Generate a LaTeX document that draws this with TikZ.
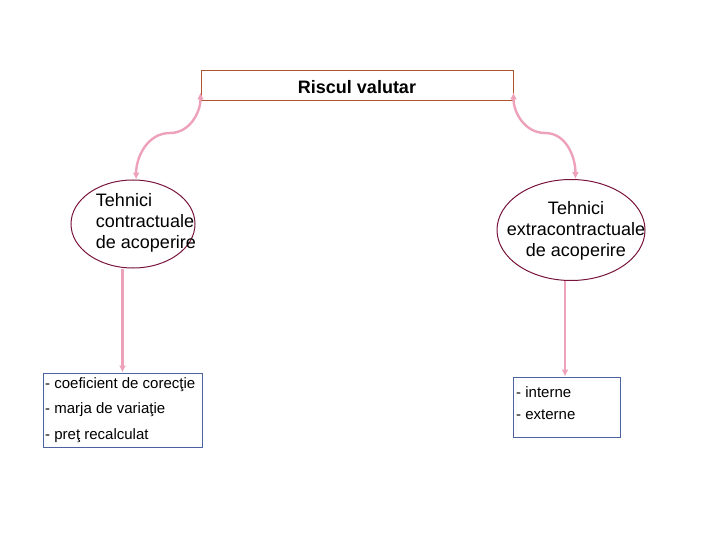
\documentclass[tikz,border=0pt]{standalone}
\usepackage{fontspec}
\setmainfont{Liberation Sans}
\usetikzlibrary{shapes.geometric,arrows.meta,calc}

\definecolor{linkpink}{RGB}{238,162,186}
\definecolor{ovalred}{RGB}{120,20,60}
\definecolor{headbrown}{RGB}{175,85,45}
\definecolor{listblue}{RGB}{75,100,160}

\tikzset{
	headbox/.style={draw=headbrown, line width=1pt, minimum width=312pt, minimum height=30pt, inner sep=0pt},
	oval/.style={draw=ovalred, line width=1pt, ellipse, inner sep=0pt},
	listbox/.style={draw=listblue, line width=1pt, inner sep=0pt},
	txt/.style={inner sep=0pt, font=\fontsize{18}{21}\selectfont},
	itemtxt/.style={inner sep=0pt, anchor=west, font=\fontsize{15}{18}\selectfont},
	link/.style={draw=linkpink, line width=2.4pt, {Latex[length=7pt,width=7pt]}-{Latex[length=7pt,width=7pt]}},
	downlink/.style={draw=linkpink, line width=2.2pt, -{Latex[length=7pt,width=7pt]}}
}

\begin{document}
\begin{tikzpicture}[x=1pt,y=-1pt]
	\useasboundingbox (0,0) rectangle (720,540);

	% header
	\node[headbox] (risc) at (357,86) {};
	\node[txt, font=\fontsize{18}{21}\selectfont\bfseries] (risctxt) at (357,87) {Riscul valutar};

	% ovals
	\node[oval, minimum width=124pt, minimum height=88pt] (contr) at (133,224) {};
	\node[txt, align=left] (contrtxt) at (146,223) {Tehnici\\contractuale\\de acoperire};
	\node[oval, minimum width=148pt, minimum height=101pt] (extra) at (571,230) {};
	\node[txt, align=center] (extratxt) at (576,231) {Tehnici\\extracontractuale\\de acoperire};

	% lists
	\node[listbox, minimum width=159pt, minimum height=74pt] (lbox) at (122.5,410) {};
	\node[itemtxt] (l1) at (45,385) {- coeficient de corecţie};
	\node[itemtxt] (l2) at (45,410) {- marja de variaţie};
	\node[itemtxt] (l3) at (45,435.5) {- preţ recalculat};
	\node[listbox, minimum width=107pt, minimum height=60pt] (rbox) at (566.5,407) {};
	\node[itemtxt] (r1) at (516,392) {- interne};
	\node[itemtxt] (r2) at (516,415) {- externe};

	% curved links
	\coordinate (ltip) at ($(risc.south west)+(0,-9)$);
	\coordinate (lbend) at (170,133);
	\coordinate (rtip) at ($(risc.south east)+(0,-9)$);
	\coordinate (rbend) at (545,133);
	\draw[link] (ltip) to[out=-90,in=0] (lbend) to[out=180,in=90] (contr.86);
	\draw[link] (rtip) to[out=-90,in=180] (rbend) to[out=0,in=90] (extra.85);

	% straight links
	\draw[downlink] (lbox.north |- contr.south) -- (lbox.north);
	\draw[downlink] ($(rbox.north |- extra.south)+(-1.5,0)$) -- ($(rbox.north)+(-1.5,0)$);
\end{tikzpicture}
\end{document}
